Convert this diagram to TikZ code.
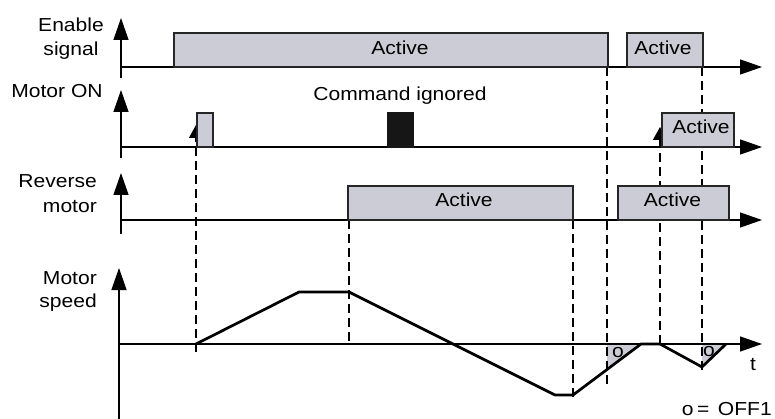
\documentclass[tikz,border=0pt]{standalone}
\usepackage{fontspec}
\setmainfont{Liberation Sans}[FakeStretch=1.12]
\usetikzlibrary{arrows.meta}
\definecolor{boxgray}{RGB}{204,204,214}
\definecolor{blk}{RGB}{22,22,22}
\begin{document}
\begin{tikzpicture}[x=1pt,y=-1pt,
  every node/.style={inner sep=0pt, font=\fontsize{18.8}{22}\selectfont},
  axis/.style={line width=1.3pt, -{Triangle[length=22pt,width=15pt]}},
  guide/.style={line width=1.4pt, dash pattern=on 9pt off 5pt},
  guidearrow/.style={guide, -{Triangle[length=13pt,width=14pt]}},
  sigbox/.style={line width=1.3pt, draw=black!85, fill=boxgray},
  wave/.style={line width=2.7pt, line join=round},
  offarea/.style={fill=boxgray}]
\useasboundingbox (0,0) rectangle (775,419);

% axis coordinates
\coordinate (eB) at (121,78);  \coordinate (eT) at (121,18);
\coordinate (eL) at (121,67);  \coordinate (eR) at (762,67);
\coordinate (mB) at (121,158); \coordinate (mT) at (121,90);
\coordinate (mL) at (121,147); \coordinate (mR) at (762,147);
\coordinate (rB) at (121,234); \coordinate (rT) at (121,173);
\coordinate (rL) at (121,220); \coordinate (rR) at (762,220);
\coordinate (sB) at (119,419); \coordinate (sT) at (119,268);
\coordinate (sL) at (119,344); \coordinate (sR) at (762,344);

% speed waveform points
\coordinate (w0) at (196,344);
\coordinate (w1) at (299,292);
\coordinate (w2) at (349,292);
\coordinate (w3) at (555,395);
\coordinate (w4) at (573,395);
\coordinate (w5) at (641,344);
\coordinate (w6) at (660,344);
\coordinate (w7) at (702,367);
\coordinate (w8) at (726,344);

% OFF1 areas
\fill[offarea] (607,344) -- (w5) -- (607,369.5) -- cycle;
\fill[offarea] (w7) -- (702,344) -- (w8) -- cycle;

% axes
\draw[axis] (eB) -- (eT);
\draw[axis] (eL) -- (eR);
\draw[axis] (mB) -- (mT);
\draw[axis] (mL) -- (mR);
\draw[axis] (rB) -- (rT);
\draw[axis] (rL) -- (rR);
\draw[axis] (sB) -- (sT);
\draw[axis] (sL) -- (sR);

% dashed guide lines
\coordinate (g1a) at (196,352); \coordinate (g1b) at (196,125);
\coordinate (g2a) at (349,220); \coordinate (g2b) at (349,345);
\coordinate (g3a) at (573,220); \coordinate (g3b) at (573,399);
\coordinate (g4a) at (607,67);  \coordinate (g4b) at (607,384);
\coordinate (g5a) at (660,344); \coordinate (g5b) at (660,127);
\coordinate (g6a) at (702,67);  \coordinate (g6b) at (702,373);
\draw[guidearrow] (g1a) -- (g1b);
\draw[guide] (g2a) -- (g2b);
\draw[guide] (g3a) -- (g3b);
\draw[guide] (g4a) -- (g4b);
\draw[guidearrow] (g5a) -- (g5b);
\draw[guide] (g6a) -- (g6b);

% signal boxes
\filldraw[sigbox] (174,67) rectangle (608,33);
\filldraw[sigbox] (627,67) rectangle (703,33);
\filldraw[sigbox] (197,147) rectangle (213,113);
\filldraw[line width=1.3pt, draw=blk, fill=blk] (388,147) rectangle (413,113);
\filldraw[sigbox] (662,147) rectangle (734,113);
\filldraw[sigbox] (348,220) rectangle (573,186);
\filldraw[sigbox] (618,220) rectangle (729,186);

% speed waveform
\draw[wave] (w0) -- (w1) -- (w2) -- (w3) -- (w4) -- (w5) -- (w6) -- (w7) -- (w8);

% labels
\node[anchor=base] (lEn1) at (71,32) {Enable};
\node[anchor=base] (lEn2) at (71,56) {signal};
\node[anchor=base] (lMo) at (57,98) {Motor ON};
\node[anchor=base east] (lRe1) at (97,188) {Reverse};
\node[anchor=base east] (lRe2) at (97,213) {motor};
\node[anchor=base east] (lSp1) at (97,284) {Motor};
\node[anchor=base east] (lSp2) at (97,307) {speed};

\node[anchor=base] (tA1) at (400,55) {Active};
\node[anchor=base] (tA2) at (663,55) {Active};
\node[anchor=base] (tCI) at (400,101) {Command ignored};
\node[anchor=base] (tA3) at (701,134) {Active};
\node[anchor=base] (tA4) at (464,207) {Active};
\node[anchor=base] (tA5) at (672.5,207) {Active};
\node[anchor=base] (tO1) at (618,357) {o};
\node[anchor=base] (tO2) at (709,356) {o};
\node[anchor=base] (tT) at (753,370) {t};
\node[anchor=base east] (tLeg) at (772,415) {o\hspace{0.2em}=\hspace{0.45em}OFF1};
\end{tikzpicture}
\end{document}
